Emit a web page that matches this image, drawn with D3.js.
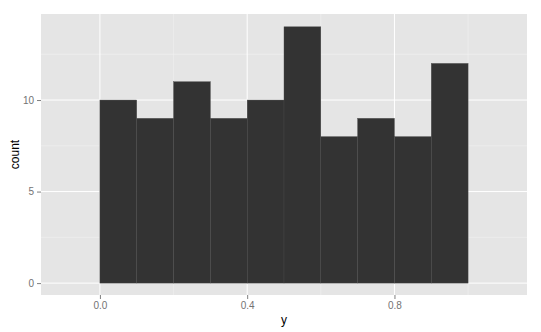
<!DOCTYPE html>
<html>
<head>
<meta charset="utf-8">
<script src="https://cdn.jsdelivr.net/npm/d3@7"></script>
<style>
  body { margin: 0; background: #fff; }
  text { font-family: "Liberation Sans", Arial, sans-serif; }
</style>
</head>
<body>
<svg width="541" height="332"></svg>
<script>
// bin edges and counts of the histogram
var binStart = [0.0, 0.1, 0.2, 0.3, 0.4, 0.5, 0.6, 0.7, 0.8, 0.9];
var binWidth = 0.1;
var counts = [10, 9, 11, 9, 10, 14, 8, 9, 8, 12];
var xTicks = [0.0, 0.4, 0.8];
var xMinor = [-0.2, 0.2, 0.6, 1.0];
var yTicks = [0, 5, 10];
var yMinor = [2.5, 7.5, 12.5];

var svg = d3.select('svg'),
    margin = { top: 14, right: 14, bottom: 37, left: 41 },
    width = +svg.attr('width') - margin.left - margin.right,
    height = +svg.attr('height') - margin.top - margin.bottom;

var x = d3.scaleLinear().domain([-0.16, 1.16]).range([0, width]),
    y = d3.scaleLinear().domain([-0.65, 14.7]).range([height, 0]);

var g = svg.append('g')
    .attr('transform', 'translate(' + margin.left + ',' + margin.top + ')');

// panel background
g.append('rect')
    .attr('width', width)
    .attr('height', height)
    .attr('fill', '#e5e5e5');

// minor grid
g.selectAll('.xminor').data(xMinor.filter(function(d) { return x(d) >= 0 && x(d) <= width; }))
  .enter().append('line')
    .attr('x1', function(d) { return x(d); })
    .attr('x2', function(d) { return x(d); })
    .attr('y1', 0).attr('y2', height)
    .attr('stroke', '#f2f2f2').attr('stroke-width', 0.5);
g.selectAll('.yminor').data(yMinor)
  .enter().append('line')
    .attr('y1', function(d) { return y(d); })
    .attr('y2', function(d) { return y(d); })
    .attr('x1', 0).attr('x2', width)
    .attr('stroke', '#f2f2f2').attr('stroke-width', 0.5);

// major grid
g.selectAll('.xmajor').data(xTicks)
  .enter().append('line')
    .attr('x1', function(d) { return x(d); })
    .attr('x2', function(d) { return x(d); })
    .attr('y1', 0).attr('y2', height)
    .attr('stroke', '#fff').attr('stroke-width', 1);
g.selectAll('.ymajor').data(yTicks)
  .enter().append('line')
    .attr('y1', function(d) { return y(d); })
    .attr('y2', function(d) { return y(d); })
    .attr('x1', 0).attr('x2', width)
    .attr('stroke', '#fff').attr('stroke-width', 1);

// bars
g.selectAll('.bar')
    .data(binStart)
  .enter().append('rect')
    .attr('class', 'bar')
    .attr('x', function(d) { return x(d); })
    .attr('width', function(d) { return x(d + binWidth) - x(d); })
    .attr('y', function(d, i) { return y(counts[i]); })
    .attr('height', function(d, i) { return y(0) - y(counts[i]); })
    .attr('fill', '#333333')
    .attr('stroke', '#4a4a4a')
    .attr('stroke-width', 0.4);

// axes
var xAxis = g.append('g')
    .attr('transform', 'translate(0,' + height + ')')
    .call(d3.axisBottom(x).tickValues(xTicks).tickFormat(d3.format('.1f')).tickSizeOuter(0).tickSize(4).tickPadding(3));
var yAxis = g.append('g')
    .call(d3.axisLeft(y).tickValues(yTicks).tickSizeOuter(0).tickSize(4).tickPadding(3));

[xAxis, yAxis].forEach(function(a) {
  a.select('.domain').remove();
  a.selectAll('line').attr('stroke', '#7f7f7f');
  a.selectAll('text').attr('fill', '#737373').style('font-size', '10px');
});

// axis titles
svg.append('text')
    .attr('x', margin.left + x(0.5))
    .attr('y', 324)
    .attr('text-anchor', 'middle')
    .style('font-size', '12px')
    .text('y');
svg.append('text')
    .attr('transform', 'translate(19,' + (margin.top + height / 2) + ') rotate(-90)')
    .attr('text-anchor', 'middle')
    .style('font-size', '12px')
    .text('count');
</script>
</body>
</html>
